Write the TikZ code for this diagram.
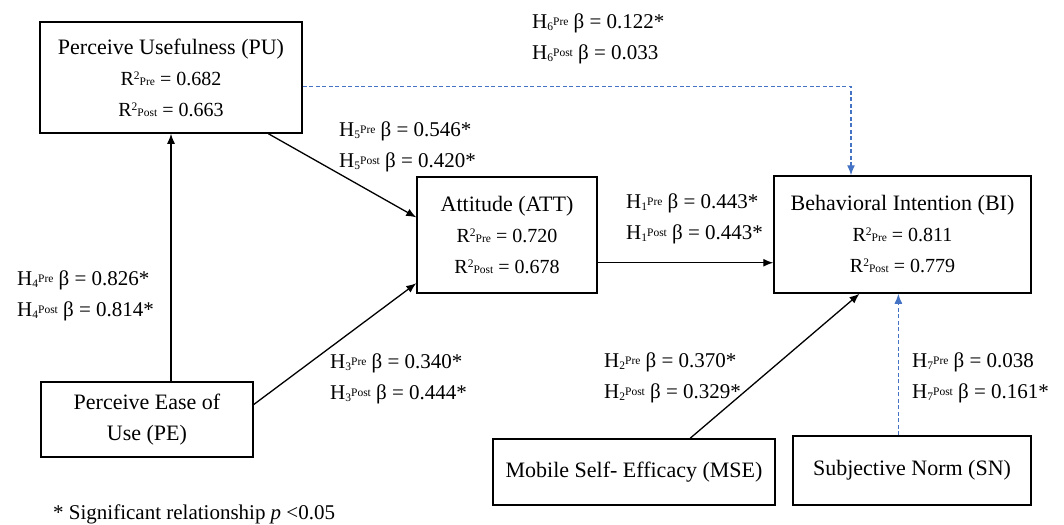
\documentclass[tikz,border=0pt]{standalone}
\usepackage{fontspec}
\setmainfont{Liberation Serif}
\usetikzlibrary{arrows.meta, calc, positioning}
\definecolor{nsblue}{RGB}{68,114,196}
\newcommand{\sm}[1]{{\fontsize{11.5}{11.5}\selectfont #1}}
\newcommand{\hyp}[3]{H\raisebox{-2pt}{\sm{#1}}\raisebox{3pt}{\sm{#2}} β = #3}
\newcommand{\rsq}[2]{{\fontsize{20}{31}\selectfont R\raisebox{6pt}{\sm{2}}\sm{#1} = #2}}

\begin{document}
\begin{tikzpicture}[
    x=1pt, y=-1pt,
    >={Latex[length=10pt,width=8pt]},
    every node/.style={font=\fontsize{21}{31}\selectfont, inner sep=0pt},
    construct/.style={draw, line width=1.5pt, align=center, font=\fontsize{22}{31}\selectfont},
    link/.style={->, line width=1.3pt},
    nslink/.style={->, nsblue, line width=1.3pt, dash pattern=on 4pt off 2.5pt},
    coef/.style={anchor=west, align=left},
]
\useasboundingbox (0,0) rectangle (1064,524);
% constructs
\node[construct, minimum width=262pt, minimum height=111pt] (PU) at (171,77.5)
    {Perceive Usefulness (PU)\\ \rsq{Pre}{0.682}\\ \rsq{Post}{0.663}};
\node[construct, minimum width=180pt, minimum height=116pt] (ATT) at (507,235)
    {Attitude (ATT)\\ \rsq{Pre}{0.720}\\ \rsq{Post}{0.678}};
\node[construct, minimum width=257pt, minimum height=117pt] (BI) at (902.5,234.5)
    {Behavioral Intention (BI)\\ \rsq{Pre}{0.811}\\ \rsq{Post}{0.779}};
\node[construct, minimum width=212pt, minimum height=75pt] (PE) at (147,419.5)
    {Perceive Ease of\\ Use (PE)};
\node[construct, minimum width=282pt, minimum height=66pt] (MSE) at (634,472)
    {Mobile Self- Efficacy (MSE)};
\node[construct, minimum width=238pt, minimum height=69pt] (SN) at (912,470.5)
    {Subjective Norm (SN)};
% paths
\draw[link] (PE.north -| PU.south) -- (PU.south);
\draw[link] (PU.-30) -- (ATT.169);
\draw[link] (PE.8) -- (ATT.208);
\draw[link] (ATT.-17) -- (ATT.-17 -| BI.west);
\draw[link] (MSE.31) -- (BI.234);
% non-significant paths
\draw[nslink] (PU.-4) -| (BI.131);
\draw[nslink] (SN.north -| BI.266) -- (BI.266);
% path coefficients
\node[coef] (h6) at (532,38.5) {\hyp{6}{Pre}{0.122*}\\ \hyp{6}{Post}{0.033}};
\node[coef] (h5) at (339,147) {\hyp{5}{Pre}{0.546*}\\ \hyp{5}{Post}{0.420*}};
\node[coef] (h1) at (626,219) {\hyp{1}{Pre}{0.443*}\\ \hyp{1}{Post}{0.443*}};
\node[coef] (h4) at (17,296) {\hyp{4}{Pre}{0.826*}\\ \hyp{4}{Post}{0.814*}};
\node[coef] (h3) at (330,379) {\hyp{3}{Pre}{0.340*}\\ \hyp{3}{Post}{0.444*}};
\node[coef] (h2) at (604,378) {\hyp{2}{Pre}{0.370*}\\ \hyp{2}{Post}{0.329*}};
\node[coef] (h7) at (912,378) {\hyp{7}{Pre}{0.038}\\ \hyp{7}{Post}{0.161*}};
% note
\node[anchor=west] (note) at (53,514) {* Significant relationship \textit{p} <0.05};
\end{tikzpicture}
\end{document}
